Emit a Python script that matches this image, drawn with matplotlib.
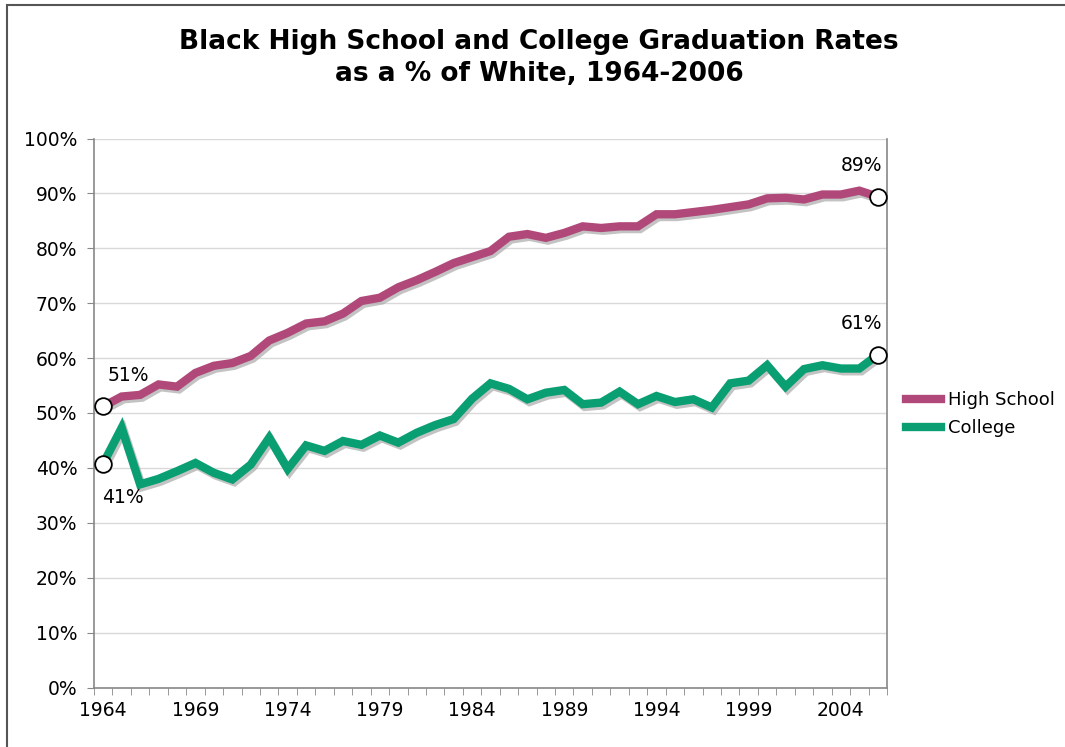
import numpy as np
import matplotlib
matplotlib.use("Agg")
import matplotlib.pyplot as plt
import matplotlib.patheffects as pe
from matplotlib.patches import Rectangle

years = list(range(1964, 2007))

high_school = [51.2, 53.0, 53.3, 55.2, 54.8, 57.3, 58.6, 59.1, 60.4, 63.2,
               64.6, 66.3, 66.7, 68.1, 70.4, 71.0, 72.9, 74.2, 75.7, 77.3,
               78.4, 79.5, 82.1, 82.6, 81.9, 82.8, 84.0, 83.7, 84.0, 84.0,
               86.2, 86.2, 86.6, 87.0, 87.5, 88.0, 89.1, 89.2, 88.9, 89.8,
               89.8, 90.5, 89.4]

college = [40.8, 47.3, 37.0, 38.0, 39.4, 40.9, 39.1, 37.9, 40.6, 45.5,
           39.8, 44.1, 43.1, 44.9, 44.2, 45.9, 44.6, 46.4, 47.8, 48.9,
           52.6, 55.4, 54.4, 52.5, 53.7, 54.2, 51.6, 51.9, 53.9, 51.6,
           53.1, 52.0, 52.5, 51.0, 55.4, 55.9, 58.7, 54.8, 58.0, 58.7,
           58.1, 58.1, 60.6]

series_names = ["High School", "College"]
label_years = list(range(1964, 2005, 5))

hs_color = "#B0497A"
col_color = "#0A9F72"

fig = plt.figure(figsize=(10.65, 7.47), dpi=100)
fig.patches.append(Rectangle((7 / 1065, -0.1), 1.2, (747 - 5) / 747 + 0.1,
                             transform=fig.transFigure, fill=False,
                             edgecolor="#555555", linewidth=1.5))

ax = fig.add_axes([94 / 1065, 1 - 687.5 / 747, (887 - 94) / 1065, 549 / 747])

shadow = [pe.SimpleLineShadow(offset=(1.5, -2), shadow_color="#aaaaaa", alpha=0.7),
          pe.Normal()]

ax.plot(years, high_school, color=hs_color, linewidth=6, label=series_names[0],
        solid_joinstyle="miter", path_effects=shadow, zorder=3)
ax.plot(years, college, color=col_color, linewidth=6, label=series_names[1],
        solid_joinstyle="miter", path_effects=shadow, zorder=3)

ends = [(years[0], high_school[0]), (years[-1], high_school[-1]),
        (years[0], college[0]), (years[-1], college[-1])]
for x, y in ends:
    ax.plot([x], [y], marker="o", markersize=12, markerfacecolor="white",
            markeredgecolor="black", markeredgewidth=1.3, zorder=5)

fs = 13.5
ax.annotate("%d%%" % round(high_school[0]), (years[0], high_school[0]),
            xytext=(25, 31), textcoords="offset pixels", ha="center", va="center", fontsize=fs)
ax.annotate("%d%%" % round(college[0]), (years[0], college[0]),
            xytext=(20, -34), textcoords="offset pixels", ha="center", va="center", fontsize=fs)
ax.annotate("%d%%" % round(high_school[-1]), (years[-1], high_school[-1]),
            xytext=(-16, 31), textcoords="offset pixels", ha="center", va="center", fontsize=fs)
ax.annotate("%d%%" % round(college[-1]), (years[-1], college[-1]),
            xytext=(-16, 31), textcoords="offset pixels", ha="center", va="center", fontsize=fs)

ax.set_xlim(years[0] - 0.5, years[-1] + 0.5)
ax.set_ylim(0, 100)
ax.set_yticks(range(0, 101, 10))
ax.set_yticklabels(["%d%%" % v for v in range(0, 101, 10)], fontsize=fs)
ax.set_xticks(label_years)
ax.set_xticklabels([str(y) for y in label_years], fontsize=fs)
ax.set_xticks(np.arange(years[0] - 0.5, years[-1] + 1), minor=True)
ax.tick_params(axis="x", which="major", length=0, pad=10)
ax.tick_params(axis="x", which="minor", length=5, color="#888888", direction="out")
ax.tick_params(axis="y", length=5, color="#888888", pad=7)

ax.grid(axis="y", color="#D9D9D9", linewidth=1)
ax.set_axisbelow(True)
for side in ["left", "bottom", "right"]:
    ax.spines[side].set_color("#888888")
    ax.spines[side].set_linewidth(1.2)
ax.spines["top"].set_visible(False)

leg = fig.legend(*ax.get_legend_handles_labels(), loc="center left",
                 bbox_to_anchor=(906 / 1065, 1 - 414 / 747), frameon=False,
                 fontsize=13, borderpad=0, borderaxespad=0,
                 handlelength=1.95, handletextpad=0.35, labelspacing=0.55)
for line in leg.get_lines():
    line.set_linewidth(6)
    line.set_path_effects([])

fig.text(539 / 1065, 1 - 42 / 747, "Black High School and College Graduation Rates",
         ha="center", va="center", fontsize=19, fontweight="bold")
fig.text(539 / 1065, 1 - 74 / 747, "as a % of White, 1964-2006",
         ha="center", va="center", fontsize=19, fontweight="bold")

fig.savefig("out.png", dpi=100)
